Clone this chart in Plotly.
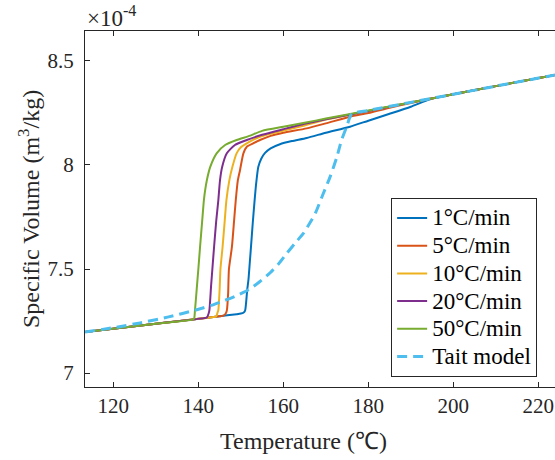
import plotly.graph_objects as go

# Specific volume (x 1e-4 m^3/kg) against temperature for several cooling rates
t_1 = [113.33, 130.0, 145.0, 149.0, 150.0, 150.6, 151.0, 151.2, 151.5, 151.8, 152.1, 152.4, 152.8, 153.2,
       153.6, 154.1, 154.8, 155.7, 157.0, 159.2, 162.0, 165.5, 170.0, 175.7, 180.0, 185.0, 190.0, 194.5,
       200.0, 210.0, 225.0]
v_1 = [7.197, 7.237, 7.273, 7.283, 7.286, 7.290, 7.300, 7.330, 7.400, 7.450, 7.530, 7.610, 7.720, 7.820,
       7.910, 7.990, 8.030, 8.058, 8.080, 8.100, 8.115, 8.130, 8.155, 8.184, 8.213, 8.246, 8.280, 8.316,
       8.340, 8.379, 8.437]

t_5 = [113.33, 130.0, 145.0, 145.9, 146.4, 146.7, 147.0, 147.2, 147.9, 148.4, 148.8, 149.3, 149.8, 150.6,
       151.4, 152.9, 154.5, 157.0, 160.0, 165.5, 170.0, 175.7, 180.0, 185.0, 190.0, 194.0, 200.0, 210.0, 225.0]
v_5 = [7.197, 7.237, 7.273, 7.276, 7.285, 7.300, 7.380, 7.500, 7.606, 7.730, 7.830, 7.927, 7.975, 8.056,
       8.088, 8.104, 8.120, 8.140, 8.155, 8.176, 8.200, 8.232, 8.250, 8.275, 8.298, 8.316, 8.340, 8.379, 8.437]

t_10 = [113.33, 130.0, 143.5, 144.2, 144.5, 144.7, 145.0, 145.2, 145.7, 146.2, 146.6, 147.3, 148.0, 149.0,
        150.0, 151.4, 154.5, 158.0, 165.0, 170.0, 175.7, 185.0, 193.0, 200.0, 210.0, 225.0]
v_10 = [7.197, 7.237, 7.269, 7.272, 7.290, 7.302, 7.400, 7.500, 7.606, 7.730, 7.830, 7.927, 7.990, 8.056,
        8.085, 8.104, 8.136, 8.155, 8.190, 8.218, 8.242, 8.280, 8.312, 8.340, 8.379, 8.437]

t_20 = [113.33, 130.0, 141.3, 142.0, 142.4, 142.6, 143.0, 143.3, 143.7, 144.2, 144.7, 145.1, 145.6, 146.7,
        148.6, 151.4, 155.0, 160.0, 165.0, 170.0, 180.0, 193.0, 200.0, 210.0, 225.0]
v_20 = [7.197, 7.237, 7.264, 7.267, 7.285, 7.302, 7.420, 7.500, 7.606, 7.730, 7.830, 7.927, 7.990, 8.056,
        8.096, 8.120, 8.145, 8.172, 8.198, 8.220, 8.260, 8.312, 8.340, 8.379, 8.437]

t_50 = [113.33, 130.0, 138.6, 139.0, 139.2, 139.6, 140.0, 140.4, 140.9, 141.3, 141.6, 142.0, 142.8, 144.3,
        146.3, 149.0, 152.0, 155.0, 160.0, 165.0, 170.0, 180.0, 193.0, 200.0, 210.0, 225.0]
v_50 = [7.197, 7.237, 7.257, 7.262, 7.300, 7.400, 7.500, 7.606, 7.730, 7.830, 7.879, 7.927, 7.991, 8.056,
        8.096, 8.120, 8.140, 8.164, 8.184, 8.203, 8.223, 8.262, 8.312, 8.340, 8.379, 8.437]

t_tait = [113.33, 120.0, 126.3, 133.0, 139.2, 143.0, 146.3, 149.0, 151.8, 154.5, 156.9, 158.9, 160.8, 162.8,
          164.7, 166.2, 167.5, 169.4, 171.0, 172.6, 173.7, 174.9, 176.1, 180.0, 190.0, 200.0, 210.0, 225.0]
v_tait = [7.197, 7.218, 7.241, 7.270, 7.302, 7.325, 7.350, 7.372, 7.400, 7.440, 7.482, 7.525, 7.575, 7.625,
          7.671, 7.720, 7.767, 7.863, 7.943, 8.039, 8.120, 8.184, 8.246, 8.262, 8.301, 8.340, 8.379, 8.437]

series = [
    ("1°C/min", t_1, v_1, "#0072BD"),
    ("5°C/min", t_5, v_5, "#D95319"),
    ("10°C/min", t_10, v_10, "#EDB120"),
    ("20°C/min", t_20, v_20, "#7E2F8E"),
    ("50°C/min", t_50, v_50, "#77AC30"),
]

x_ticks = [120, 140, 160, 180, 200, 220]
y_ticks = [7, 7.5, 8, 8.5]
y_tick_text = ["7", "7.5", "8", "8.5"]

FONT = "Liberation Serif"
INK = "#262626"


def legend_label(text):
    # larger glyphs while keeping compact legend rows
    return "<span style='font-size:23px'>" + text + "</span>"


fig = go.Figure()
for name, tx, vy, col in series:
    fig.add_trace(go.Scatter(x=tx, y=vy, mode="lines", name=legend_label(name),
                             line=dict(color=col, width=2, shape="spline", smoothing=0.6)))
fig.add_trace(go.Scatter(x=t_tait, y=v_tait, mode="lines", name=legend_label("Tait model"),
                         line=dict(color="#4DBEEE", width=3, dash="10px,6px",
                                   shape="spline", smoothing=0.6)))

fig.update_layout(
    width=555, height=460,
    margin=dict(l=85, r=0, t=31, b=73),
    paper_bgcolor="white", plot_bgcolor="white",
    font=dict(family=FONT, size=21, color=INK),
    showlegend=True,
    legend=dict(x=0.962, xanchor="right", y=0.5305, yanchor="top",
                bgcolor="white", bordercolor=INK, borderwidth=1,
                font=dict(family=FONT, size=19, color="black"),
                tracegroupgap=0),
    xaxis=dict(range=[113.33, 223.92], tickvals=x_ticks, ticks="inside", ticklen=5,
               tickcolor=INK, showline=True, linecolor=INK, linewidth=1, mirror="ticks",
               showgrid=False, zeroline=False,
               tickfont=dict(family=FONT, size=21, color=INK)),
    yaxis=dict(range=[6.933, 8.644], tickvals=y_ticks, ticktext=y_tick_text, ticks="inside",
               ticklen=5, tickcolor=INK, showline=True, linecolor=INK, linewidth=1,
               showgrid=False, zeroline=False,
               tickfont=dict(family=FONT, size=21, color=INK),
               ticklabelstandoff=6),
    annotations=[
        dict(text="×10<sup>-4</sup>", xref="paper", yref="paper", x=0.0, y=1.0,
             xanchor="left", yanchor="bottom", yshift=-2, showarrow=False,
             font=dict(family=FONT, size=23, color=INK)),
        dict(text="Temperature (℃)", xref="paper", yref="paper", x=0.464, y=0,
             xanchor="center", yanchor="middle", yshift=-54, showarrow=False,
             font=dict(family=FONT, size=24, color=INK)),
        dict(text="Specific Volume (m<sup>3</sup>/kg)", xref="paper", yref="paper",
             x=0, y=0.5, xanchor="center", yanchor="middle", xshift=-56, textangle=-90,
             showarrow=False, font=dict(family=FONT, size=24, color=INK)),
    ],
)

fig.write_html("out.html")
